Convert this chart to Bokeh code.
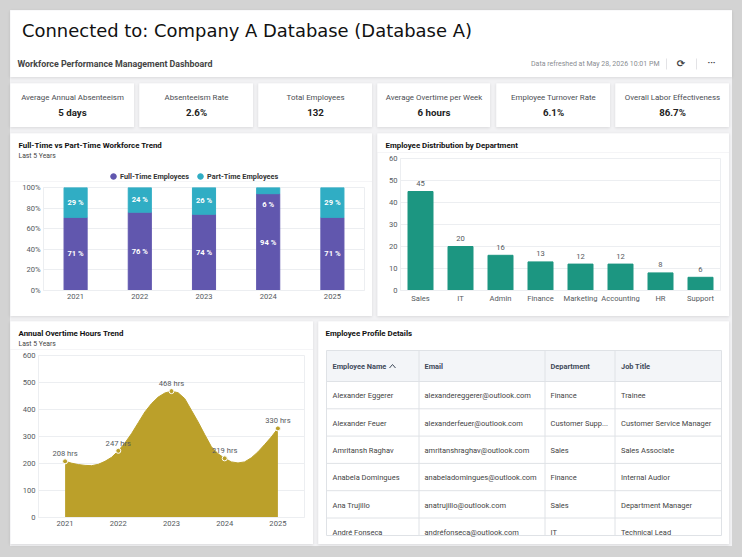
from bokeh.core.properties import value
from bokeh.embed import file_html
from bokeh.resources import INLINE
from bokeh.layouts import column, row
from bokeh.models import (ColumnDataSource, FactorRange, FixedTicker, Legend, LegendItem, Range1d)
from bokeh.plotting import figure

# ---------- data ----------
banner_title = "Connected to: Company A Database (Database A)"
dashboard_title = "Workforce Performance Management Dashboard"
refreshed_text = "Data refreshed at May 28, 2026 10:01 PM"

kpi_names = ["Average Annual Absenteeism", "Absenteeism Rate", "Total Employees",
             "Average Overtime per Week", "Employee Turnover Rate", "Overall Labor Effectiveness"]
kpi_values = ["5 days", "2.6%", "132", "6 hours", "6.1%", "86.7%"]

years = ["2021", "2022", "2023", "2024", "2025"]
full_time = [71, 76, 74, 94, 71]
part_time = [29, 24, 26, 6, 29]
pct_ticks = [0, 20, 40, 60, 80, 100]

departments = ["Sales", "IT", "Admin", "Finance", "Marketing", "Accounting", "HR", "Support"]
dept_counts = [45, 20, 16, 13, 12, 12, 8, 6]
dept_ticks = [0, 10, 20, 30, 40, 50, 60]

overtime_years = [2021, 2022, 2023, 2024, 2025]
overtime_hours = [208, 247, 468, 219, 330]
overtime_ticks = [0, 100, 200, 300, 400, 500, 600]
# outline of the area, every eighth of a year
curve_years = [2021 + i / 8 for i in range(33)]
curve_hours = [208, 201, 196, 193, 192, 197, 208, 223,
               247, 276, 311, 351, 391, 422, 446, 461,
               468, 462, 440, 397, 354, 307, 262, 236,
               219, 206, 202, 206, 221, 243, 270, 298, 330]

table_columns = ["Employee Name", "Email", "Department", "Job Title"]
emp_names = ["Alexander Eggerer", "Alexander Feuer", "Amritansh Raghav",
             "Anabela Domingues", "Ana Trujillo", "André Fonseca"]
emp_emails = ["alexandereggerer@outlook.com", "alexanderfeuer@outlook.com", "amritanshraghav@outlook.com",
              "anabeladomingues@outlook.com", "anatrujillo@outlook.com", "andréfonseca@outlook.com"]
emp_depts = ["Finance", "Customer Supp...", "Sales", "Finance", "Sales", "IT"]
emp_jobs = ["Trainee", "Customer Service Manager", "Sales Associate",
            "Internal Audior", "Department Manager", "Technical Lead"]

# ---------- style ----------
OUTER = "#d3d3d3"
DASH = "#f2f2f4"
PURPLE = "#6157ae"
TEAL = "#30adc4"
GREEN = "#1c9681"
GOLD = "#bba02a"
GRID = "#eceef1"
TICK = "#555a60"
FONT = "Roboto"
SHADOW = {"box-shadow": "0 1px 3px rgba(0,0,0,0.10)"}


def pane(x0, y0, x1, y1, margin=(0, 0, 0, 0), styles=SHADOW):
    """A white panel whose ranges are its own pixels."""
    p = figure(width=x1 - x0, height=y1 - y0, x_range=Range1d(x0, x1), y_range=Range1d(y1, y0),
               output_backend="svg", toolbar_location=None, min_border=0, outline_line_color=None,
               background_fill_color="white", border_fill_color="white", margin=margin, styles=styles,
               frame_align=False)
    p.axis.visible = False
    p.grid.visible = False
    return p


def put(p, x, y, text, size, color="#333333", style="normal", align="left", font=FONT):
    p.text(x=[x], y=[y], text=[text], text_font=value(font), text_font_size=f"{size}px", text_color=color,
           text_font_style=style, text_align=align, text_baseline="middle")


def chart(x0, y0, x1, y1, fx0, fy0, fx1, fy1, x_range, y_range):
    p = figure(width=x1 - x0, height=y1 - y0, x_range=x_range, y_range=y_range,
               output_backend="svg", toolbar_location=None,
               min_border_left=fx0 - x0, min_border_right=x1 - fx1, min_border_top=fy0 - y0,
               min_border_bottom=y1 - fy1, outline_line_color=GRID,
               background_fill_color="white", border_fill_color="white", frame_align=False)
    p.xgrid.visible = False
    p.ygrid.grid_line_color = GRID
    for ax in (p.xaxis[0], p.yaxis[0]):
        ax.major_tick_line_color = None
        ax.minor_tick_line_color = None
        ax.major_tick_out = 0
        ax.major_tick_in = 0
        ax.minor_tick_out = 0
        ax.minor_tick_in = 0
        ax.axis_line_color = GRID
        ax.major_label_text_font = FONT
        ax.major_label_text_font_size = "7.6px"
        ax.major_label_text_color = TICK
        ax.major_label_standoff = 3
    return p


def card(head, body, margin=(0, 0, 0, 0)):
    return column(head, body, spacing=0, margin=margin, styles=SHADOW)


# ---------- banner ----------
header = pane(10, 10, 732, 77)
put(header, 21.5, 30, banner_title, 17.95, "#111111", font="DejaVu Sans")
put(header, 17, 63, dashboard_title, 8.85, "#444444", "bold")
put(header, 659, 63, refreshed_text, 7.0, "#8a8d92", align="right")
header.segment(x0=[666, 696], y0=[58, 58], x1=[666, 696], y1=[69, 69], line_color="#e3e3e6", line_width=1)
put(header, 680.5, 63, "⟳", 10, "#444444", "bold", "center", "DejaVu Sans")
put(header, 711, 62, "···", 9, "#444444", "bold", "center")

# ---------- KPI cards ----------
card_edges = [(10, 134), (139, 253), (258, 372), (377, 490), (496, 610), (615, 729)]
cards = []
prev = 10
for (a, b), name, val in zip(card_edges, kpi_names, kpi_values):
    c = pane(a, 83, b, 127, margin=(0, 0, 0, a - prev))
    put(c, (a + b) / 2, 97, name, 7.9, "#4a4d52", align="center")
    put(c, (a + b) / 2, 112, val, 9.7, "#222222", "bold", "center")
    cards.append(c)
    prev = b

# ---------- full-time vs part-time ----------
h1 = pane(10, 133, 372, 181, styles={})
put(h1, 18, 145, "Full-Time vs Part-Time Workforce Trend", 7.9, "#111111", "bold")
put(h1, 18, 155, "Last 5 Years", 6.8, "#444444")
nan = float("nan")
lg1 = h1.scatter(x=[nan], y=[nan], marker="circle", color=PURPLE)
lg2 = h1.scatter(x=[nan], y=[nan], marker="circle", color=TEAL)
h1.add_layout(Legend(items=[LegendItem(label="Full-Time Employees", renderers=[lg1]),
                            LegendItem(label="Part-Time Employees", renderers=[lg2])],
                     orientation="horizontal", location=(96, -2), padding=0, margin=0, spacing=4,
                     label_standoff=-2, glyph_width=14, glyph_height=14, border_line_color=None,
                     background_fill_alpha=0, label_text_font=FONT, label_text_font_size="7.3px",
                     label_text_color="#333333", label_text_font_style="bold"))

p1 = chart(10, 181, 372, 316, 43, 187, 364, 290, FactorRange(*years), Range1d(0, 100))
src1 = ColumnDataSource(dict(year=years, ft=full_time, pt=part_time,
                             top=[a + b for a, b in zip(full_time, part_time)],
                             ft_mid=[a / 2 for a in full_time],
                             pt_mid=[a + b / 2 for a, b in zip(full_time, part_time)],
                             ft_txt=[f"{v} %" for v in full_time],
                             pt_txt=[f"{v} %" for v in part_time],
                             pt_off=[14 if v < 10 else 0 for v in part_time]))
p1.vbar(x="year", bottom=0, top="ft", width=0.36, color=PURPLE, source=src1)
p1.vbar(x="year", bottom="ft", top="top", width=0.36, color=TEAL, source=src1)
label_style = dict(text_color="white", text_font=value(FONT), text_font_size="7.6px", text_font_style="bold",
                   text_align="center", text_baseline="middle", source=src1)
p1.text(x="year", y="ft_mid", text="ft_txt", **label_style)
p1.text(x="year", y="pt_mid", text="pt_txt", y_offset="pt_off", **label_style)
p1.yaxis[0].ticker = FixedTicker(ticks=pct_ticks)
p1.yaxis[0].major_label_overrides = {t: f"{t}%" for t in pct_ticks}

# ---------- department distribution ----------
h2 = pane(377, 133, 729, 152, styles={})
put(h2, 385, 145, "Employee Distribution by Department", 7.9, "#111111", "bold")
p2 = chart(377, 152, 729, 316, 400, 158, 720, 290, FactorRange(*departments), Range1d(0, 60))
src2 = ColumnDataSource(dict(dept=departments, n=dept_counts, txt=[str(v) for v in dept_counts]))
p2.vbar(x="dept", bottom=0, top="n", width=0.625, color=GREEN, source=src2)
p2.text(x="dept", y="n", text="txt", y_offset=-8, text_color=TICK, text_font=value(FONT), text_font_size="7.6px",
        text_align="center", text_baseline="middle", source=src2)
p2.yaxis[0].ticker = FixedTicker(ticks=dept_ticks)

# ---------- overtime ----------
h3 = pane(10, 321, 313, 349, styles={})
put(h3, 18, 333, "Annual Overtime Hours Trend", 7.9, "#111111", "bold")
put(h3, 18, 343, "Last 5 Years", 6.8, "#444444")
p3 = chart(10, 349, 313, 544, 38, 355, 304, 517, Range1d(2020.5, 2025.5), Range1d(0, 600))
p3.varea(x=curve_years, y1=[0] * len(curve_hours), y2=curve_hours, color=GOLD)
p3.line(x=curve_years, y=curve_hours, color=GOLD, line_width=1)
src3 = ColumnDataSource(dict(yr=overtime_years, h=overtime_hours, txt=[f"{v} hrs" for v in overtime_hours]))
p3.scatter(x="yr", y="h", size=5, fill_color=GOLD, line_color="white", line_width=1, source=src3)
p3.text(x="yr", y="h", text="txt", y_offset=-7.5, text_color=TICK, text_font=value(FONT), text_font_size="7.6px",
        text_align="center", text_baseline="middle", source=src3)
p3.xaxis[0].ticker = FixedTicker(ticks=overtime_years)
p3.xaxis[0].major_label_overrides = {y: str(y) for y in overtime_years}
p3.yaxis[0].ticker = FixedTicker(ticks=overtime_ticks)

# ---------- table ----------
t = pane(318, 321, 729, 544, margin=(0, 0, 0, 5))
put(t, 325, 333, "Employee Profile Details", 7.9, "#111111", "bold")
col_x = [326, 418.5, 544.5, 614.5, 721]
text_x = [332, 424, 550, 620.5]
t.quad(left=[326], right=[721], top=[350], bottom=[381], fill_color="#f3f5f8", line_color=None)
row_lines = [381 + 27.3 * i for i in range(0, 6)]
t.segment(x0=[326] * 6, x1=[721] * 6, y0=row_lines, y1=row_lines, line_color="#dfe2e6", line_width=1)
t.segment(x0=col_x, x1=col_x, y0=[350] * 5, y1=[535] * 5, line_color="#dfe2e6", line_width=1)
t.segment(x0=[326, 326], x1=[721, 721], y0=[350, 535], y1=[350, 535], line_color="#dfe2e6", line_width=1)
for x, name in zip(text_x, table_columns):
    put(t, x, 365.5, name, 7.4, "#3f4a5a", "bold")
t.line(x=[389, 392, 395], y=[367.5, 364, 367.5], line_color="#3f4a5a", line_width=1)
for i, rec in enumerate(zip(emp_names, emp_emails, emp_depts, emp_jobs)):
    for x, val in zip(text_x, rec):
        put(t, x, 395.3 + 27.3 * i, val, 7.5, "#444444")

top_row = row(*cards, margin=(6, 0, 0, 0), spacing=0)
mid_row = row(card(h1, p1), card(h2, p2, margin=(0, 0, 0, 5)), margin=(6, 0, 0, 0), spacing=0)
low_row = row(card(h3, p3), t, margin=(5, 0, 0, 0), spacing=0)
page = column(header, top_row, mid_row, low_row, width=722, height=536, spacing=0,
              margin=(10, 0, 0, 10), styles={"background": DASH})

html = file_html(page, INLINE)
html = html.replace("</head>", f"<style>html,body{{background:{OUTER};}}</style></head>", 1)
open("out.html", "w").write(html)
